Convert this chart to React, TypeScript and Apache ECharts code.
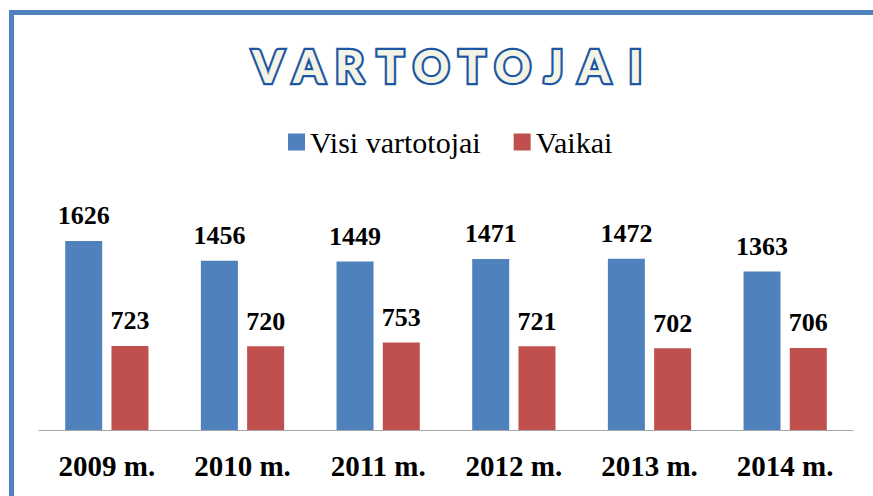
import React, { useEffect, useRef } from "react";
import * as echarts from "echarts";

const titleLetters = ["V", "A", "R", "T", "O", "T", "O", "J", "A", "I"];
const categories = ["2009 m.", "2010 m.", "2011 m.", "2012 m.", "2013 m.", "2014 m."];
const seriesNames = ["Visi vartotojai", "Vaikai"];
const allUsers = [1626, 1456, 1449, 1471, 1472, 1363];
const children = [723, 720, 753, 721, 702, 706];
const colors = ["#4F81BD", "#C0504D"];

const SERIF = "Liberation Serif";

export default function App() {
  const ref = useRef<HTMLDivElement>(null);
  useEffect(() => {
    if (!ref.current) return;
    const chart = echarts.init(ref.current, null, { renderer: "svg" });
    const labelStyle = {
      show: true,
      position: "top" as const,
      distance: 12,
      fontFamily: SERIF,
      fontWeight: "bold" as const,
      fontSize: 26,
      color: "#000",
    };
    chart.setOption({
      animation: false,
      backgroundColor: "#fff",
      textStyle: { fontFamily: SERIF },
      graphic: [
        {
          type: "rect",
          shape: { x: 11.5, y: 12.5, width: 920, height: 620 },
          style: { fill: "none", stroke: "#4F81BD", lineWidth: 5 },
          silent: true,
        },
        ...titleLetters.map((ch, i) => ({
          type: "text",
          x: 268 + i * 40.8,
          y: 66,
          z: 10,
          style: {
            text: ch,
            fontFamily: "Lato",
            fontWeight: 900,
            fontSize: 45,
            fill: "#F3F3E6",
            stroke: "#1D56A3",
            lineWidth: 4.5,
            align: "center",
            verticalAlign: "middle",
            shadowColor: "rgba(0,0,0,0.35)",
            shadowBlur: 3,
            shadowOffsetX: 2,
            shadowOffsetY: 2,
          },
        })),
      ],
      legend: {
        data: seriesNames,
        left: 283,
        top: 122,
        icon: "rect",
        itemWidth: 17,
        itemHeight: 17,
        itemGap: 33,
        formatter: "{s|{name}}",
        textStyle: {
          fontFamily: SERIF,
          fontSize: 30,
          color: "#000",
          rich: { s: { fontFamily: SERIF, fontSize: 30, color: "#000" } },
        },
      },
      grid: { left: 39, right: 20, top: 220.7, bottom: 66, containLabel: false },
      xAxis: {
        type: "category",
        data: categories,
        axisLine: { lineStyle: { color: "#A6A6A6", width: 1 } },
        axisTick: { show: false },
        axisLabel: {
          margin: 21,
          fontFamily: SERIF,
          fontWeight: "bold",
          fontSize: 29,
          color: "#000",
        },
      },
      yAxis: { type: "value", min: 0, max: 1800, show: false, splitLine: { show: false } },
      series: [
        {
          name: seriesNames[0],
          type: "bar",
          data: allUsers,
          barWidth: 37,
          barGap: "25%",
          itemStyle: { color: colors[0] },
          label: labelStyle,
        },
        {
          name: seriesNames[1],
          type: "bar",
          data: children,
          barWidth: 37,
          barGap: "25%",
          itemStyle: { color: colors[1] },
          label: labelStyle,
        },
      ],
    });
    return () => chart.dispose();
  }, []);
  return (
    <div
      ref={ref}
      style={{ position: "absolute", left: 0, top: 0, width: 873, height: 496 }}
    />
  );
}
